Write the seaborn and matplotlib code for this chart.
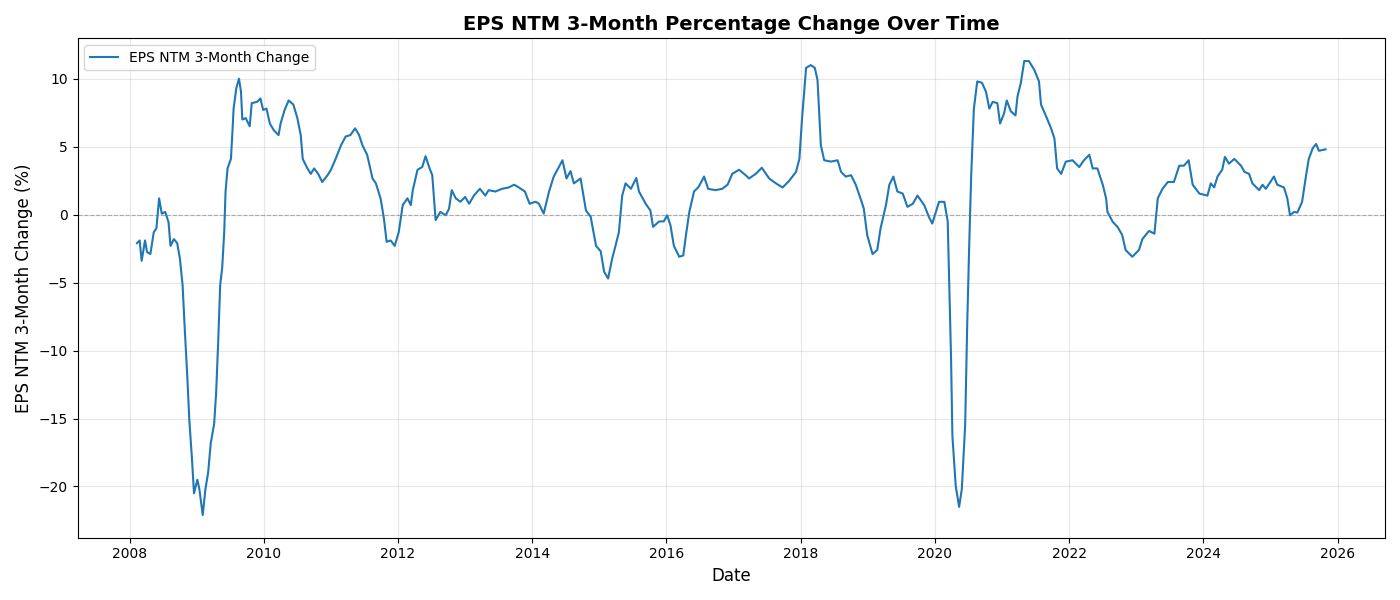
import pandas as pd
import numpy as np
import seaborn as sns
import matplotlib.pyplot as plt

# fractional year of each reading
year_frac = [
    2008.11, 2008.15, 2008.18, 2008.23, 2008.26, 2008.31, 2008.36, 2008.40, 2008.44, 2008.48,
    2008.53, 2008.58, 2008.61, 2008.66, 2008.71, 2008.75, 2008.79, 2008.82, 2008.86, 2008.89,
    2008.93, 2008.96, 2009.01, 2009.04, 2009.09, 2009.13, 2009.17, 2009.21, 2009.26, 2009.29,
    2009.32, 2009.35, 2009.38, 2009.41, 2009.43, 2009.46, 2009.51, 2009.53, 2009.55, 2009.59,
    2009.63, 2009.66, 2009.68, 2009.73, 2009.79, 2009.82, 2009.90, 2009.95, 2009.99, 2010.04,
    2010.09, 2010.15, 2010.22, 2010.25, 2010.31, 2010.37, 2010.44, 2010.50, 2010.55, 2010.58,
    2010.65, 2010.70, 2010.75, 2010.81, 2010.87, 2010.95, 2011.00, 2011.07, 2011.15, 2011.22,
    2011.29, 2011.36, 2011.42, 2011.47, 2011.54, 2011.62, 2011.67, 2011.74, 2011.79, 2011.83,
    2011.89, 2011.95, 2012.01, 2012.07, 2012.14, 2012.19, 2012.22, 2012.29, 2012.36, 2012.41,
    2012.47, 2012.51, 2012.56, 2012.63, 2012.71, 2012.76, 2012.80, 2012.86, 2012.93, 2013.00,
    2013.06, 2013.13, 2013.22, 2013.30, 2013.35, 2013.45, 2013.55, 2013.65, 2013.73, 2013.80,
    2013.89, 2013.96, 2014.05, 2014.10, 2014.17, 2014.25, 2014.32, 2014.45, 2014.51, 2014.57,
    2014.62, 2014.72, 2014.80, 2014.87, 2014.95, 2015.02, 2015.07, 2015.13, 2015.19, 2015.24,
    2015.29, 2015.34, 2015.39, 2015.47, 2015.55, 2015.59, 2015.69, 2015.76, 2015.80, 2015.89,
    2015.96, 2016.01, 2016.06, 2016.11, 2016.19, 2016.25, 2016.29, 2016.34, 2016.41, 2016.48,
    2016.56, 2016.62, 2016.73, 2016.83, 2016.91, 2016.98, 2017.08, 2017.18, 2017.23, 2017.33,
    2017.42, 2017.53, 2017.63, 2017.73, 2017.83, 2017.93, 2017.98, 2018.02, 2018.08, 2018.15,
    2018.21, 2018.25, 2018.30, 2018.35, 2018.45, 2018.55, 2018.60, 2018.67, 2018.75, 2018.82,
    2018.89, 2018.94, 2018.99, 2019.07, 2019.14, 2019.19, 2019.27, 2019.32, 2019.38, 2019.44,
    2019.52, 2019.59, 2019.67, 2019.74, 2019.84, 2019.91, 2019.96, 2020.06, 2020.14, 2020.19,
    2020.21, 2020.24, 2020.26, 2020.31, 2020.36, 2020.40, 2020.45, 2020.48, 2020.51, 2020.54,
    2020.58, 2020.63, 2020.70, 2020.76, 2020.81, 2020.86, 2020.93, 2020.97, 2021.03, 2021.07,
    2021.13, 2021.20, 2021.23, 2021.28, 2021.33, 2021.40, 2021.48, 2021.55, 2021.58, 2021.65,
    2021.73, 2021.78, 2021.82, 2021.88, 2021.95, 2022.05, 2022.15, 2022.22, 2022.30, 2022.35,
    2022.42, 2022.50, 2022.55, 2022.57, 2022.65, 2022.72, 2022.79, 2022.84, 2022.94, 2023.04,
    2023.09, 2023.19, 2023.27, 2023.32, 2023.39, 2023.47, 2023.56, 2023.64, 2023.71, 2023.78,
    2023.84, 2023.94, 2024.06, 2024.11, 2024.16, 2024.21, 2024.28, 2024.32, 2024.38, 2024.46,
    2024.56, 2024.61, 2024.68, 2024.73, 2024.83, 2024.88, 2024.93, 2025.05, 2025.10, 2025.20,
    2025.25, 2025.29, 2025.35, 2025.40, 2025.47, 2025.53, 2025.57, 2025.63, 2025.68, 2025.72,
    2025.82,
]

# EPS NTM 3-month % change
eps_change = [
    -2.1, -1.9, -3.4, -1.9, -2.75, -2.9, -1.3, -1.0, 1.2, 0.07,
    0.2, -0.54, -2.3, -1.8, -2.1, -3.25, -5.2, -8.2, -11.9, -15.1,
    -18.0, -20.5, -19.5, -20.2, -22.1, -20.2, -19.0, -16.8, -15.4, -13.1,
    -9.4, -5.2, -3.9, -1.3, 1.7, 3.4, 4.1, 5.85, 7.8, 9.3,
    10.0, 9.05, 7.0, 7.1, 6.5, 8.2, 8.3, 8.55, 7.7, 7.8,
    6.7, 6.2, 5.85, 6.7, 7.7, 8.4, 8.1, 7.1, 5.85, 4.1,
    3.4, 3.0, 3.4, 3.0, 2.4, 2.9, 3.3, 4.1, 5.1, 5.75,
    5.85, 6.35, 5.85, 5.1, 4.4, 2.66, 2.3, 1.2, -0.3, -2.0,
    -1.9, -2.3, -1.3, 0.7, 1.2, 0.7, 1.8, 3.3, 3.5, 4.3,
    3.4, 2.9, -0.4, 0.2, -0.05, 0.44, 1.8, 1.2, 0.95, 1.3,
    0.8, 1.4, 1.9, 1.4, 1.8, 1.7, 1.9, 2.0, 2.2, 2.0,
    1.7, 0.8, 0.95, 0.8, 0.07, 1.7, 2.8, 4.0, 2.66, 3.2,
    2.3, 2.66, 0.3, -0.15, -2.3, -2.7, -4.2, -4.7, -3.25, -2.3,
    -1.3, 1.4, 2.3, 1.9, 2.7, 1.7, 0.8, 0.3, -0.9, -0.5,
    -0.5, -0.05, -0.8, -2.3, -3.1, -3.0, -1.5, 0.2, 1.7, 2.05,
    2.8, 1.9, 1.8, 1.9, 2.2, 3.0, 3.3, 2.9, 2.66, 3.0,
    3.45, 2.66, 2.3, 2.0, 2.5, 3.15, 4.1, 7.1, 10.8, 11.0,
    10.8, 9.9, 5.1, 4.0, 3.9, 4.0, 3.15, 2.8, 2.9, 2.2,
    1.2, 0.44, -1.5, -2.9, -2.6, -1.0, 0.7, 2.2, 2.8, 1.7,
    1.55, 0.57, 0.8, 1.4, 0.7, -0.17, -0.66, 0.94, 0.94, -0.5,
    -4.5, -10.6, -16.3, -20.0, -21.5, -20.2, -15.5, -8.2, -2.3, 2.9,
    7.8, 9.8, 9.7, 9.05, 7.8, 8.3, 8.2, 6.7, 7.45, 8.4,
    7.6, 7.3, 8.7, 9.7, 11.3, 11.3, 10.65, 9.8, 8.1, 7.3,
    6.35, 5.6, 3.4, 3.0, 3.9, 4.0, 3.5, 4.0, 4.4, 3.4,
    3.4, 2.2, 1.2, 0.2, -0.54, -0.9, -1.5, -2.6, -3.1, -2.6,
    -1.8, -1.2, -1.4, 1.2, 1.9, 2.4, 2.4, 3.6, 3.6, 4.0,
    2.2, 1.55, 1.4, 2.3, 2.0, 2.8, 3.3, 4.25, 3.75, 4.1,
    3.6, 3.15, 3.0, 2.3, 1.8, 2.2, 1.9, 2.8, 2.2, 2.0,
    1.2, -0.05, 0.2, 0.15, 0.94, 2.9, 4.1, 4.9, 5.2, 4.7,
    4.8,
]

yf = np.array(year_frac)
dates = pd.to_datetime('2008-01-01') + pd.to_timedelta((yf - 2008) * 365.25, unit='D')
df = pd.DataFrame({'Date': dates, 'EPS_NTM_3M_Change': eps_change})

fig, ax = plt.subplots(figsize=(14, 6), dpi=100)

sns.lineplot(data=df, x='Date', y='EPS_NTM_3M_Change', ax=ax, color='#1f77b4',
             linewidth=1.5, label='EPS NTM 3-Month Change')
ax.axhline(0, color='gray', linestyle='--', linewidth=0.8, alpha=0.6)

ax.set_title('EPS NTM 3-Month Percentage Change Over Time', fontsize=14, fontweight='bold')
ax.set_xlabel('Date', fontsize=12)
ax.set_ylabel('EPS NTM 3-Month Change (%)', fontsize=12)
ax.grid(True, alpha=0.3)
ax.legend(loc='upper left')

plt.tight_layout()
plt.savefig('out.png')
